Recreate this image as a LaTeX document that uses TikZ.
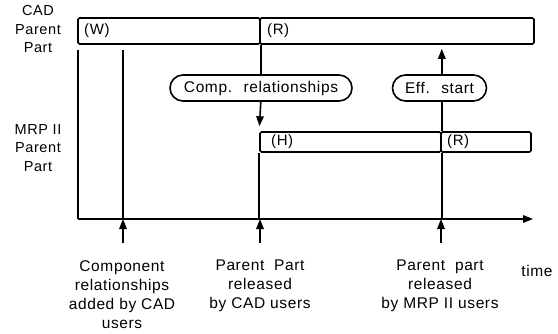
\documentclass[tikz,border=0pt]{standalone}
\usepackage{fontspec}
\setmainfont{Liberation Sans}
\newfontfamily\labfont[LetterSpace=4]{Liberation Sans}
\usetikzlibrary{arrows.meta,shapes.misc,calc}
\tikzset{
  ln/.style={line width=1.6pt},
  tri/.tip={Triangle[length=10pt,width=7.5pt]},
  bar/.style={draw,ln,rectangle,inner sep=0pt,rounded corners=1.5pt},
  pill/.style={draw,ln,rounded rectangle,minimum height=26pt,inner sep=0pt,font=\labfont\fontsize{15.5}{18}\selectfont},
  bartxt/.style={anchor=west,inner sep=0pt,font=\labfont\fontsize{15}{18}\selectfont},
  sidetxt/.style={align=center,inner sep=0pt,anchor=north,font=\labfont\fontsize{14.5}{18.8}\selectfont},
  bottxt/.style={align=center,inner sep=0pt,anchor=north,font=\labfont\fontsize{15.5}{19}\selectfont},
}
\begin{document}
\begin{tikzpicture}[x=1pt,y=-1pt]
\useasboundingbox (0,0) rectangle (558,333);
% bars
\node[bar,minimum width=182pt,minimum height=26pt] (cadW) at (169,31) {};
\node[bar,minimum width=274pt,minimum height=26pt] (cadR) at (397,31) {};
\node[bar,minimum width=181pt,minimum height=20pt] (mrpH) at (350.5,142) {};
\node[bar,minimum width=90pt,minimum height=20pt] (mrpR) at (486,142) {};
\node[bartxt] (tW) at (84,31) {(W)};
\node[bartxt] (tR1) at (267,31) {(R)};
\node[bartxt] (tH) at (271,142) {(H)};
\node[bartxt] (tR2) at (447,142) {(R)};
% pills
\node[pill,minimum width=182pt] (comp) at (261,88) {Comp.~ relationships};
\node[pill,minimum width=94pt] (eff) at (439.5,88) {Eff.~ start};
% side labels
\node[sidetxt] (cadlab) at (38,5) {CAD\\Parent\\Part};
\node[sidetxt] (mrplab) at (38,124) {MRP II\\Parent\\Part};
% axis
\coordinate (o) at (78,219);
\coordinate (e) at (533,219);
\coordinate (lt) at (78,50);
\coordinate (c1t) at (123,50);
\coordinate (c1) at (123,219);
\coordinate (a1) at (123,243);
\coordinate (a2) at (260,243);
\coordinate (a3) at (441,243);
\draw[ln,-tri] (o) -- (e);
\draw[ln] (lt) -- (o);
\draw[ln] (c1t) -- (c1);
\draw[ln] (cadW.south east) -- (cadW.south east |- comp.north);
\draw[ln,-tri,shorten >=5pt] (cadW.south east |- comp.south) -- (mrpH.north west);
\draw[ln] (mrpH.south west) -- (mrpH.south west |- o);
\draw[ln] (mrpH.north east) -- (mrpH.north east |- eff.south);
\draw[ln,-tri,shorten >=4pt] (mrpH.north east |- eff.north) -- (mrpH.north east |- cadR.south);
\draw[ln] (mrpH.south east) -- (mrpH.south east |- o);
\draw[ln,-tri] (a1) -- (a1 |- o);
\draw[ln,-tri] (a2) -- (a2 |- o);
\draw[ln,-tri] (a3) -- (a3 |- o);
% bottom labels
\node[bottxt] (l1) at (122,260) {Component\\relationships\\added by CAD\\users};
\node[bottxt] (l2) at (260,260) {Parent~ Part\\released\\by CAD users};
\node[bottxt] (l3) at (440,260) {Parent~ part\\released\\by MRP II users};
\node[anchor=base,inner sep=0pt,font=\labfont\fontsize{15.5}{19}\selectfont] (time) at (537,276) {time};
\end{tikzpicture}
\end{document}
